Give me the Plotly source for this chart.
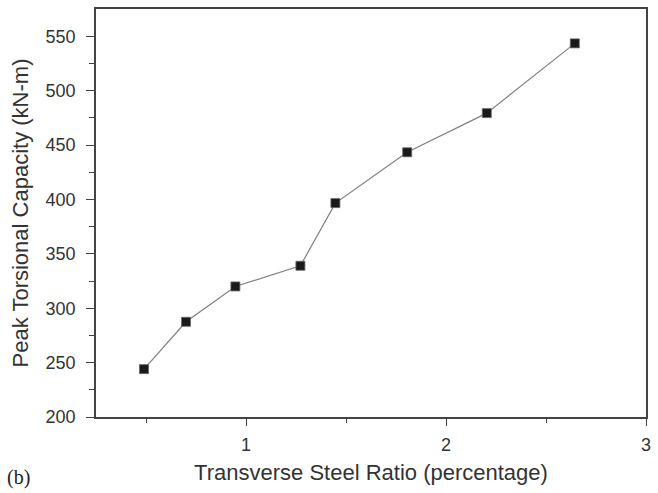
import plotly.graph_objects as go

steel_ratio = [0.49, 0.70, 0.947, 1.272, 1.447, 1.806, 2.204, 2.644]
capacity = [244, 287.5, 320, 339, 396.6, 443.3, 479.3, 543.4]

x_ticks = [1, 2, 3]
y_ticks = [200, 250, 300, 350, 400, 450, 500, 550]

fig = go.Figure()
fig.add_trace(go.Scatter(
    x=steel_ratio, y=capacity, mode="lines+markers",
    line=dict(color="#808080", width=1.2),
    marker=dict(symbol="square", size=9, color="#1a1a1a",
                line=dict(color="#666666", width=0.8)),
    showlegend=False,
))

axis_font = dict(family="Liberation Sans, Arial, sans-serif", size=18, color="#333333")
title_font = dict(family="Liberation Sans, Arial, sans-serif", size=22, color="#333333")

fig.update_xaxes(
    range=[0.25, 3.0], tickvals=x_ticks, ticktext=[str(v) for v in x_ticks],
    ticks="outside", ticklen=7, tickwidth=1.2, tickcolor="#444444",
    minor=dict(tickvals=[0.5, 1.5, 2.5], ticks="outside", ticklen=4,
               tickwidth=1.2, tickcolor="#444444"),
    showline=True, linecolor="#444444", linewidth=1.5, mirror=True,
    showgrid=False, zeroline=False, tickfont=axis_font, ticklabelstandoff=4,
    title=dict(text="Transverse Steel Ratio (percentage)", font=title_font, standoff=10),
)
fig.update_yaxes(
    range=[200, 575], tickvals=y_ticks,
    ticks="outside", ticklen=8, tickwidth=1.2, tickcolor="#444444",
    minor=dict(tickvals=[225, 275, 325, 375, 425, 475, 525], ticks="outside",
               ticklen=5, tickwidth=1.2, tickcolor="#444444"),
    showline=True, linecolor="#444444", linewidth=1.5, mirror=True,
    showgrid=False, zeroline=False, tickfont=axis_font, ticklabelstandoff=7,
    title=dict(text="Peak Torsional Capacity (kN-m)", font=title_font, standoff=11),
)

fig.add_annotation(
    text="(b)", xref="paper", yref="paper", x=-0.165, y=-0.148,
    xanchor="left", yanchor="middle", showarrow=False,
    font=dict(family="Liberation Serif, Times New Roman, serif", size=20, color="#222222"),
)

fig.update_layout(
    width=658, height=493,
    margin=dict(l=96, r=9, t=7, b=76),
    paper_bgcolor="white", plot_bgcolor="white",
)

fig.write_html("out.html")
